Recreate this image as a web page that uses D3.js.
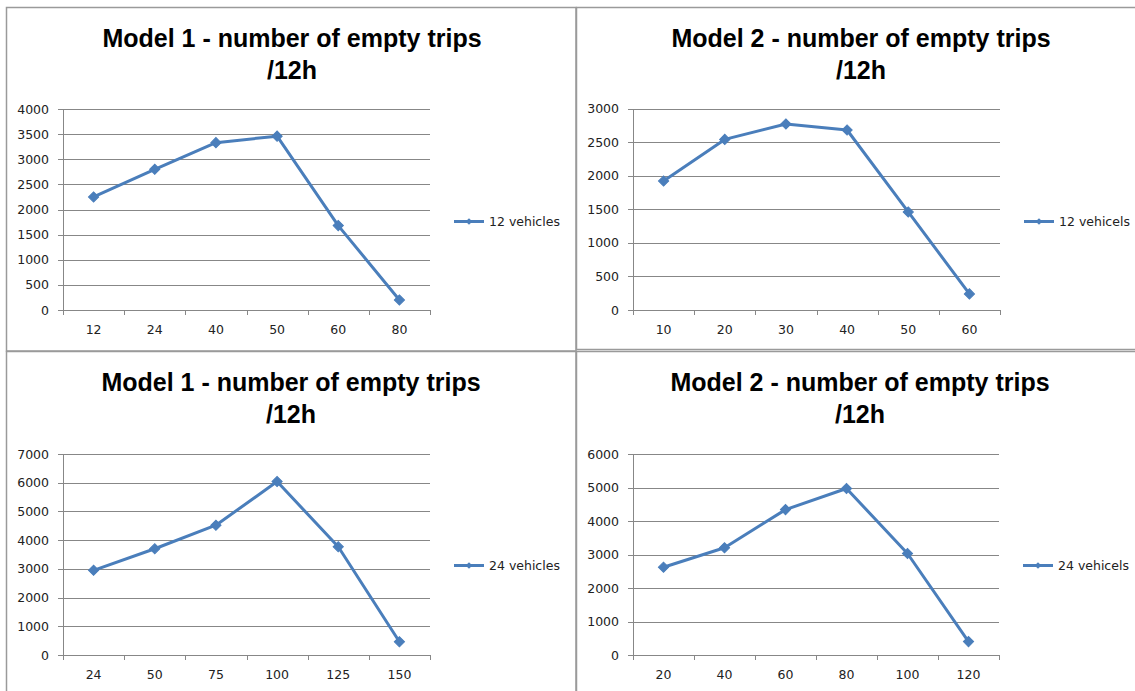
<!DOCTYPE html>
<html>
<head>
<meta charset="utf-8">
<script src="https://cdn.jsdelivr.net/npm/d3@7"></script>
<style>
  html, body { margin: 0; padding: 0; background: #fff; }
  svg { display: block; }
</style>
</head>
<body>
<svg id="chart" width="1135" height="691"></svg>
<script>
// ---- Data ----
const titleLine1_m1 = "Model 1 - number of empty trips";
const titleLine1_m2 = "Model 2 - number of empty trips";
const titleLine2 = "/12h";

const m1v12Cats = ["12", "24", "40", "50", "60", "80"];
const m1v12Vals = [2250, 2800, 3330, 3460, 1680, 200];
const m1v12Ticks = [0, 500, 1000, 1500, 2000, 2500, 3000, 3500, 4000];
const m1v12Label = "12 vehicles";

const m2v12Cats = ["10", "20", "30", "40", "50", "60"];
const m2v12Vals = [1920, 2540, 2770, 2680, 1460, 240];
const m2v12Ticks = [0, 500, 1000, 1500, 2000, 2500, 3000];
const m2v12Label = "12 vehicels";

const m1v24Cats = ["24", "50", "75", "100", "125", "150"];
const m1v24Vals = [2950, 3700, 4520, 6040, 3770, 460];
const m1v24Ticks = [0, 1000, 2000, 3000, 4000, 5000, 6000, 7000];
const m1v24Label = "24 vehicles";

const m2v24Cats = ["20", "40", "60", "80", "100", "120"];
const m2v24Vals = [2620, 3200, 4340, 4970, 3030, 400];
const m2v24Ticks = [0, 1000, 2000, 3000, 4000, 5000, 6000];
const m2v24Label = "24 vehicels";

// ---- Layout / style ----
const LINE_COLOR = "#4A7EBB";
const GRID_COLOR = "#878787";
const BORDER_COLOR = "#9a9a9a";
const TICK_FONT = "'DejaVu Sans', Verdana, sans-serif";
const TITLE_FONT = "'Liberation Sans', Arial, sans-serif";
const TICK_SIZE = 12.5;

const svg = d3.select("#chart");

const panels = [
  { title: titleLine1_m1, cats: m1v12Cats, vals: m1v12Vals, ticks: m1v12Ticks, label: m1v12Label,
    box: [6.5, 7.5, 569.5, 343.5], titleX: 292, plot: [63, 109, 430, 310] },
  { title: titleLine1_m2, cats: m2v12Cats, vals: m2v12Vals, ticks: m2v12Ticks, label: m2v12Label,
    box: [576.5, 7.5, 570, 342], titleX: 861, plot: [633, 108.5, 1000, 310] },
  { title: titleLine1_m1, cats: m1v24Cats, vals: m1v24Vals, ticks: m1v24Ticks, label: m1v24Label,
    box: [6.5, 351.5, 569.5, 345], titleX: 291, plot: [63, 454, 430, 655] },
  { title: titleLine1_m2, cats: m2v24Cats, vals: m2v24Vals, ticks: m2v24Ticks, label: m2v24Label,
    box: [576.5, 351.5, 570, 345], titleX: 860, plot: [633, 454, 999, 655] }
];

panels.forEach(p => {
  const [bx, by, bw, bh] = p.box;
  const [x0, y0, x1, y1] = p.plot;
  const g = svg.append("g");

  // panel border
  g.append("rect")
    .attr("x", bx).attr("y", by).attr("width", bw).attr("height", bh)
    .attr("fill", "#fff").attr("stroke", BORDER_COLOR).attr("stroke-width", 1.5);

  // title
  const t = g.append("text")
    .attr("text-anchor", "middle")
    .attr("font-family", TITLE_FONT)
    .attr("font-weight", "bold")
    .attr("font-size", 25)
    .attr("fill", "#000");
  t.append("tspan").attr("x", p.titleX).attr("y", by + 39).text(p.title);
  t.append("tspan").attr("x", p.titleX).attr("y", by + 71).text(titleLine2);

  // scales
  const x = d3.scaleBand().domain(p.cats).range([x0, x1]).padding(0);
  const yMax = d3.max(p.ticks);
  const y = d3.scaleLinear().domain([0, yMax]).range([y1, y0]);

  // gridlines
  const grid = g.append("g")
    .attr("transform", `translate(${x0},0)`)
    .call(d3.axisLeft(y).tickValues(p.ticks.filter(v => v > 0)).tickSize(-(x1 - x0)).tickFormat(""));
  grid.select(".domain").remove();
  grid.selectAll(".tick line").attr("stroke", GRID_COLOR).attr("stroke-width", 1)
    .attr("shape-rendering", "crispEdges");

  // y axis
  const ya = g.append("g")
    .attr("transform", `translate(${x0},0)`)
    .call(d3.axisLeft(y).tickValues(p.ticks).tickSize(5).tickPadding(9).tickFormat(d3.format("d")));
  ya.select(".domain").attr("stroke", GRID_COLOR).attr("shape-rendering", "crispEdges");
  ya.selectAll(".tick line").attr("stroke", GRID_COLOR).attr("shape-rendering", "crispEdges");
  ya.selectAll(".tick text").attr("font-family", TICK_FONT).attr("font-size", TICK_SIZE).attr("fill", "#222");

  // x axis: tick marks at category boundaries
  const xb = d3.scaleLinear().domain([0, p.cats.length]).range([x0, x1]);
  const xa = g.append("g")
    .attr("transform", `translate(0,${y1})`)
    .call(d3.axisBottom(xb).tickValues(d3.range(p.cats.length + 1)).tickSize(5).tickFormat("").tickSizeOuter(0));
  xa.select(".domain").attr("stroke", GRID_COLOR).attr("shape-rendering", "crispEdges");
  xa.selectAll(".tick line").attr("stroke", GRID_COLOR).attr("shape-rendering", "crispEdges");

  // x labels
  const xl = g.append("g")
    .attr("transform", `translate(0,${y1})`)
    .call(d3.axisBottom(x).tickSize(0).tickPadding(15));
  xl.select(".domain").remove();
  xl.selectAll(".tick text").attr("font-family", TICK_FONT).attr("font-size", TICK_SIZE).attr("fill", "#222");

  // line
  const data = p.cats.map((c, i) => ({ c, v: p.vals[i] }));
  const line = d3.line().x(d => x(d.c) + x.bandwidth() / 2).y(d => y(d.v));
  g.append("path").datum(data)
    .attr("d", line)
    .attr("fill", "none")
    .attr("stroke", LINE_COLOR)
    .attr("stroke-width", 3)
    .attr("stroke-linejoin", "round");

  // markers
  const diamond = d3.symbol().type(d3.symbolSquare).size(52);
  g.selectAll("path.mk").data(data).join("path")
    .attr("class", "mk")
    .attr("d", diamond)
    .attr("transform", d => `translate(${x(d.c) + x.bandwidth() / 2},${y(d.v)}) rotate(45)`)
    .attr("fill", LINE_COLOR)
    .attr("stroke", LINE_COLOR)
    .attr("stroke-width", 1);

  // legend
  const ly = by + 214;
  const lx = x1 + 24;
  g.append("line")
    .attr("x1", lx).attr("x2", lx + 30).attr("y1", ly).attr("y2", ly)
    .attr("stroke", LINE_COLOR).attr("stroke-width", 3);
  g.append("path")
    .attr("d", d3.symbol().type(d3.symbolSquare).size(22))
    .attr("transform", `translate(${lx + 15},${ly}) rotate(45)`)
    .attr("fill", LINE_COLOR);
  g.append("text")
    .attr("x", lx + 35).attr("y", ly)
    .attr("dy", "0.35em")
    .attr("font-family", TICK_FONT)
    .attr("font-size", TICK_SIZE)
    .attr("fill", "#222")
    .text(p.label);
});
</script>
</body>
</html>
